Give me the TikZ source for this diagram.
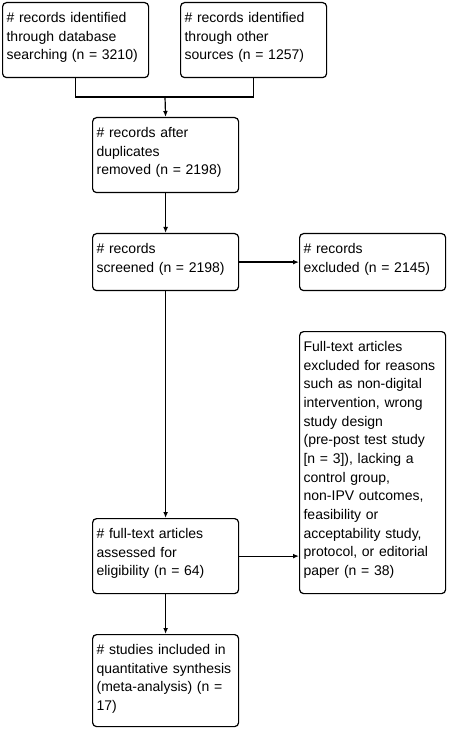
\documentclass[tikz,border=0pt]{standalone}
\usepackage{fontspec}
\setmainfont{Liberation Sans}
\usetikzlibrary{arrows.meta}

\begin{document}
\begin{tikzpicture}[x=0.75pt, y=-0.75pt,
    box/.style={draw, line width=0.9pt, rounded corners=3pt, anchor=north west,
      text width=103.5pt, align=left, inner xsep=3pt, inner ysep=0pt,
      text height=15pt, font=\fontsize{10.5}{14}\selectfont},
    link/.style={line width=0.9pt, -{Latex[length=4.5pt,width=3.6pt]}},
    joint/.style={line width=0.9pt}]
  \useasboundingbox (0,0) rectangle (450,730);

  % identification
  \node[box, text depth=41.25pt] (database) at (2,2)
      {\# records identified\\through database\\searching (n = 3210)};
  \node[box, text depth=41.25pt] (other) at (180,2)
      {\# records identified\\through other\\sources (n = 1257)};

  % screening
  \node[box, text depth=41.25pt] (dedup) at (92,117)
      {\# records after\\duplicates\\removed (n = 2198)};
  \node[box, text depth=27.75pt] (screened) at (92,233)
      {\# records\\screened (n = 2198)};
  \node[box, text depth=27.75pt] (excluded) at (299,233)
      {\# records\\excluded (n = 2145)};

  % eligibility
  \node[box, text depth=181.5pt] (fulltextout) at (299,331)
      {Full-text articles\\excluded for reasons\\such as non-digital\\intervention, wrong\\study design\\(pre-post test study\\{[n = 3])}, lacking a\\control group,\\non-IPV outcomes,\\feasibility or\\acceptability study,\\protocol, or editorial\\paper (n = 38)};
  \node[box, text depth=41.25pt] (fulltext) at (92,518)
      {\# full-text articles\\assessed for\\eligibility (n = 64)};

  % included
  \node[box, text depth=54pt] (included) at (92,634)
      {\# studies included in\\quantitative synthesis\\(meta-analysis) (n =\\17)};

  \coordinate (merge) at (165,97);
  \draw[joint] (database.south) |- (merge) -| (other.south);
  \draw[link] (merge) -- (dedup.north);
  \draw[link] (dedup) -- (screened);
  \draw[link] (screened) -- (excluded);
  \draw[link] (screened) -- (fulltext);
  \draw[link] (fulltext.east) -- (fulltext.east -| fulltextout.west);
  \draw[link] (fulltext) -- (included);
\end{tikzpicture}
\end{document}
